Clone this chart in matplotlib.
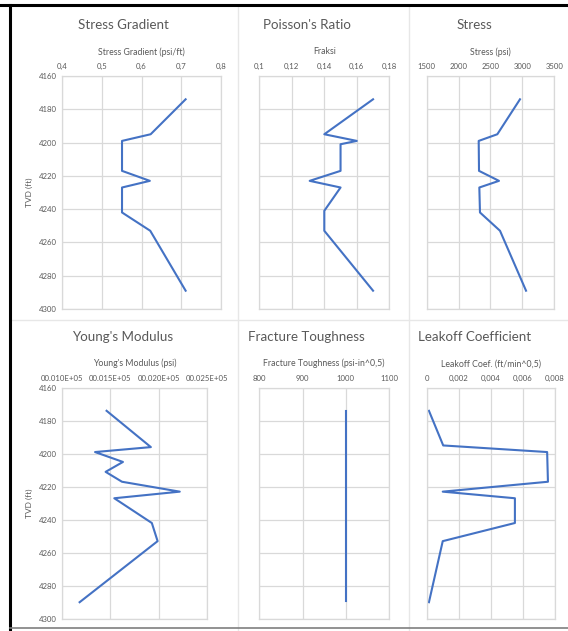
import matplotlib

matplotlib.use("Agg")
import matplotlib.pyplot as plt
from matplotlib.patches import Rectangle
from matplotlib.lines import Line2D

plt.rcParams["font.family"] = ["Lato", "DejaVu Sans"]

# layer depths (ft) and values
depth_sg = [4174, 4195, 4199, 4217, 4223, 4227, 4242, 4253, 4289]
stress_gradient = [0.711, 0.623, 0.551, 0.551, 0.621, 0.551, 0.551, 0.622, 0.711]

depth_pr = [4174, 4195, 4199, 4201, 4217, 4223, 4227, 4241, 4253, 4289]
poisson = [0.170, 0.140, 0.160, 0.150, 0.150, 0.131, 0.150, 0.140, 0.140, 0.170]

depth_st = [4174, 4195, 4199, 4217, 4223, 4227, 4242, 4253, 4289]
stress = [2962, 2607, 2315, 2320, 2633, 2325, 2335, 2649, 3057]

depth_ym = [4174, 4196, 4199, 4205, 4211, 4217, 4223, 4227, 4242, 4253, 4290]
youngs = [0.0146, 0.0192, 0.0134, 0.0163, 0.0145, 0.0162, 0.0222, 0.0154, 0.0193, 0.0199, 0.0118]

depth_ft = [4174, 4289]
toughness = [1000, 1000]

depth_lk = [4174, 4195, 4199, 4217, 4223, 4227, 4242, 4253, 4290]
leakoff = [0.00014, 0.00103, 0.00751, 0.00756, 0.00100, 0.00550, 0.00550, 0.00100, 0.00014]

W, H = 568, 631
GRAY = "#595959"
GRID = "#D9D9D9"
BLUE = "#4472C4"

fig = plt.figure(figsize=(W / 100, H / 100), dpi=100)


def px_axes(x0, y0, x1, y1):
    return fig.add_axes([x0 / W, 1 - y1 / H, (x1 - x0) / W, (y1 - y0) / H])


def panel(box, title, xlabel, x, y, xlim, xticks, xticklabels, show_y):
    x0, y0, x1, y1 = box
    ax = px_axes(x0, y0, x1, y1)
    ax.plot(x, y, color=BLUE, linewidth=1.5)
    ax.set_xlim(*xlim)
    ax.set_ylim(4300, 4160)
    ax.set_yticks(range(4160, 4301, 20))
    ax.set_xticks(xticks)
    ax.set_xticklabels(xticklabels)
    ax.xaxis.tick_top()
    ax.grid(True, color=GRID, linewidth=0.9)
    ax.set_axisbelow(True)
    for s in ax.spines.values():
        s.set_color(GRID)
        s.set_linewidth(0.9)
    ax.tick_params(length=0, labelsize=5.6, colors=GRAY, pad=4)
    if show_y:
        ax.set_ylabel("TVD (ft)", fontsize=6, color=GRAY, labelpad=4)
    else:
        ax.set_yticklabels([])
    cx = (x0 + x1) / 2
    fig.text(cx / W, 1 - (y0 - 24) / H, xlabel, ha="center", va="center",
             fontsize=6.3, color=GRAY)
    return ax


def title(cx, cy, text):
    fig.text(cx / W, 1 - cy / H, text, ha="center", va="center",
             fontsize=9.6, color=GRAY)


# separators and outer frame
for xs in (238, 409):
    fig.add_artist(Line2D([xs / W, xs / W], [0, 1 - 6 / H], color="#E7E7E7", linewidth=1))
fig.add_artist(Line2D([10 / W, 1], [1 - 320 / H, 1 - 320 / H], color="#E7E7E7", linewidth=1))
fig.add_artist(Line2D([0, 1], [1 - 5 / H, 1 - 5 / H], color="black", linewidth=2.2))
fig.add_artist(Line2D([10 / W, 10 / W], [0, 1 - 5 / H], color="black", linewidth=2.2))
fig.add_artist(Line2D([10 / W, 1], [1 - 628 / H, 1 - 628 / H], color="#7F7F7F", linewidth=1.2))

top = (76, 309)
bot = (387.7, 618.7)

panel((62, top[0], 221, top[1]), "Stress Gradient", "Stress Gradient (psi/ft)",
      stress_gradient, depth_sg, (0.4, 0.8), [0.4, 0.5, 0.6, 0.7, 0.8],
      ["0,4", "0,5", "0,6", "0,7", "0,8"], True)
panel((259.3, top[0], 389.3, top[1]), "Poisson's Ratio", "Fraksi",
      poisson, depth_pr, (0.1, 0.18), [0.1, 0.12, 0.14, 0.16, 0.18],
      ["0,1", "0,12", "0,14", "0,16", "0,18"], False)
panel((426.7, top[0], 554.3, top[1]), "Stress", "Stress (psi)",
      stress, depth_st, (1500, 3500), [1500, 2000, 2500, 3000, 3500],
      ["1500", "2000", "2500", "3000", "3500"], False)

panel((62.3, bot[0], 206.7, bot[1]), "Young's Modulus", "Young's Modulus (psi)",
      youngs, depth_ym, (0.010, 0.025), [0.010, 0.015, 0.020, 0.025],
      ["00.010E+05", "00.015E+05", "00.020E+05", "00.025E+05"], True)
panel((259.3, bot[0], 389, bot[1]), "Fracture Toughness", "Fracture Toughness (psi-in^0,5)",
      toughness, depth_ft, (800, 1100), [800, 900, 1000, 1100],
      ["800", "900", "1000", "1100"], False)
panel((426.7, bot[0], 555, bot[1]), "Leakoff Coefficient", "Leakoff Coef. (ft/min^0,5)",
      leakoff, depth_lk, (0, 0.008), [0, 0.002, 0.004, 0.006, 0.008],
      ["0", "0,002", "0,004", "0,006", "0,008"], False)

title(123, 25, "Stress Gradient")
title(307, 25, "Poisson's Ratio")
title(474, 25, "Stress")
title(123, 337, "Young's Modulus")
title(306, 337, "Fracture Toughness")
title(475, 337, "Leakoff Coefficient")

fig.savefig("out.png", dpi=100, facecolor="white")
